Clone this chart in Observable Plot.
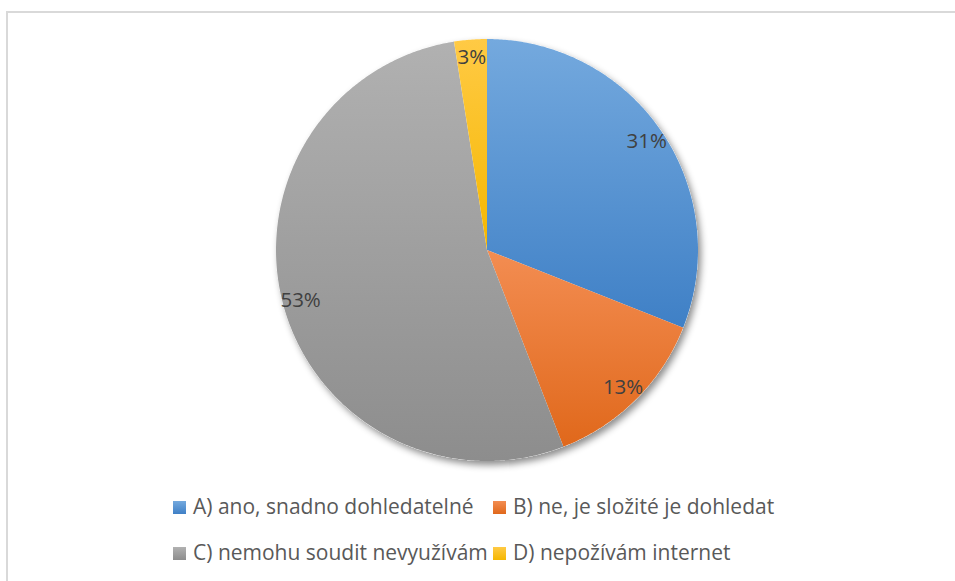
<!DOCTYPE html>
<html><head><meta charset="utf-8">
<script src="https://cdn.jsdelivr.net/npm/d3@7"></script>
<script src="https://cdn.jsdelivr.net/npm/@observablehq/plot@0.6"></script>
<style>
html,body{margin:0;padding:0;background:#fff;overflow:hidden;width:955px;height:581px;}
#frame{position:absolute;left:6px;top:11px;width:1000px;height:1000px;border:2px solid #d9d9d9;box-sizing:border-box;}
#chart{position:absolute;left:0;top:0;}
#legend{position:absolute;left:0;top:0;font-family:"Open Sans";color:#595959;}
.item{position:absolute;white-space:nowrap;line-height:1;}
.sw{position:absolute;width:13px;height:13px;}
</style></head><body>
<div id="frame"></div>
<div id="chart"></div>
<div id="legend"></div>
<script>
const categories = ["A) ano, snadno dohledatelné", "B) ne, je složité je dohledat", "C) nemohu soudit nevyužívám", "D) nepožívám internet"];
const values = [31, 13.1, 53.4, 2.5];
const topColors = ["#74a9de", "#f38d52", "#b1b1b1", "#ffca45"];
const bottomColors = ["#3f80c6", "#e0681b", "#8d8d8d", "#f5b700"];

const R = 211, cx = 486.5, cy = 249.5;
const arcs = d3.pie().sort(null).value(d => d)(values);
const slices = arcs.map((a, i) => {
  const pts = [{x: 0, y: 0}];
  const n = Math.max(2, Math.ceil((a.endAngle - a.startAngle) / (Math.PI / 360)));
  for (let k = 0; k <= n; k++) {
    const t = a.startAngle + (a.endAngle - a.startAngle) * k / n;
    pts.push({x: Math.sin(t), y: Math.cos(t)});
  }
  return pts;
});
const labelR = 0.915;
const labels = arcs.map((a, i) => {
  const m = (a.startAngle + a.endAngle) / 2;
  return {x: labelR * Math.sin(m), y: labelR * Math.cos(m), t: Math.round(values[i]) + "%"};
});

const plot = Plot.plot({
  width: 955, height: 485, margin: 0,
  style: {background: "transparent"},
  x: {domain: [-1, 1], range: [cx - R, cx + R], axis: null},
  y: {domain: [-1, 1], range: [cy + R, cy - R], axis: null},
  marks: [
    Plot.dot([{x: 0, y: 0}], {x: "x", y: "y", r: R, fill: "white", stroke: "none"}),
    ...slices.map((s, i) => Plot.line(s, {x: "x", y: "y", fill: `url(#g${i})`, stroke: "none"})),
    Plot.text(labels, {x: "x", y: "y", text: "t", fontSize: 20.5, fill: "#404040", fontFamily: "Open Sans"})
  ]
});

const svg = d3.select(plot);
const defs = svg.insert("defs", ":first-child");
topColors.forEach((c, i) => {
  const g = defs.append("linearGradient").attr("id", "g" + i).attr("x1", 0).attr("y1", 0).attr("x2", 0).attr("y2", 1);
  g.append("stop").attr("offset", "0%").attr("stop-color", c);
  g.append("stop").attr("offset", "100%").attr("stop-color", bottomColors[i]);
});
const f = defs.append("filter").attr("id", "sh").attr("x", "-20%").attr("y", "-20%").attr("width", "140%").attr("height", "140%");
f.append("feDropShadow").attr("dx", 3).attr("dy", 4).attr("stdDeviation", 3.5).attr("flood-color", "#000").attr("flood-opacity", 0.45);
svg.select('g[aria-label="dot"]').attr("filter", "url(#sh)");
document.getElementById("chart").appendChild(plot);

const colX = [173, 493], swTop = [501, 547], baseY = [515, 561];
const fs = 21;
const legend = document.getElementById("legend");
legend.style.fontSize = fs + "px";
categories.forEach((c, i) => {
  const col = i % 2, row = Math.floor(i / 2);
  const sw = document.createElement("div");
  sw.className = "sw";
  sw.style.left = colX[col] + "px";
  sw.style.top = swTop[row] + "px";
  sw.style.background = `linear-gradient(${topColors[i]}, ${bottomColors[i]})`;
  legend.appendChild(sw);
  const t = document.createElement("div");
  t.className = "item";
  t.style.left = (colX[col] + 20) + "px";
  t.style.top = (baseY[row] - 0.888 * fs) + "px";
  t.textContent = c;
  legend.appendChild(t);
});
</script>
</body></html>
